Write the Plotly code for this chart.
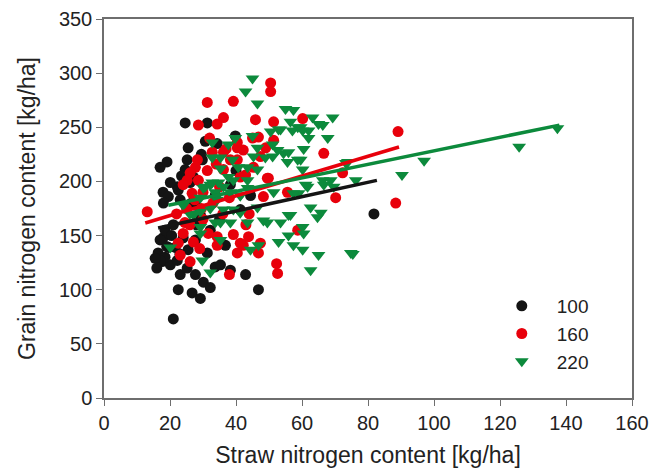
import plotly.graph_objects as go

# ---- data ----
x100 = [24.6,31.3,39.8,30.7,25.5,34.3,17.0,19.1,25.2,29.8,24.6,22.2,17.9,20.1,26.1,27.1,19.5,22.5,
        17.9,16.4,17.6,20.1,18.5,22.2,23.1,22.5,26.7,29.2,21.0,27.7,30.1,32.2,31.3,33.7,42.9,46.8,
        24.0,81.8,41.3,17.0,19.5,15.5,25.5,29.2,32.2,36.8,27.7,23.1,33.7,38.3,17.0,18.5,35.3,38.3,
        27.7,25.2,21.6,44.4,21.0,28.0,35.0,40.0,19.0,23.0,16.0,20.5,23.5,26.5,29.5,18.0]
y100 = [254,254,242,237,231,235,213,218,220,220,211,195,190,199,199,204,186,192,
        148,134,126,123,130,127,114,100,97,92,73,114,107,102,134,121,114,100,
        148,170,174,127,139,129,137,169,155,141,178,183,187,197,146,155,123,118,
        146,120,139,187,160,160,165,210,140,133,120,150,205,180,225,180]

x160 = [31.3,39.2,50.5,50.5,28.6,34.3,36.2,45.9,51.4,46.8,51.4,40.4,13.1,55.6,49.5,48.3,60.2,66.6,
        89.1,88.4,70.2,58.7,52.3,52.6,38.0,72.3,43.8,47.4,46.8,42.2,22.5,27.1,23.1,26.1,49.0,47.4,
        45.3,42.9,49.8,40.4,36.2,32.8,28.3,27.7,31.3,26.1,25.2,24.0,28.6,38.3,40.4,42.2,36.2,26.7,
        41.3,24.0,34.3,39.2,41.3,40.4,34.3,31.6,30.0,36.0,33.0,38.0,44.0,22.0,26.0,30.0,35.0,43.0,
        29.0,37.0,45.0,25.0,27.5,32.0,34.0,29.5,24.5]
y160 = [273,274,291,283,252,253,259,257,255,241,238,236,172,190,203,186,258,226,
        246,180,185,155,124,115,114,208,149,143,134,141,143,144,132,126,231,223,
        213,206,203,231,227,227,220,213,210,208,201,197,201,220,220,229,211,189,
        204,152,149,151,143,134,141,152,165,170,180,185,170,170,160,190,195,160,
        138,230,240,175,183,240,216,175,162]

x220 = [45.0,42.9,46.5,55.0,57.4,63.2,66.3,69.3,56.5,59.6,57.1,52.9,50.5,67.8,62.0,60.5,54.4,46.5,
        45.3,51.1,59.6,61.7,59.0,66.3,69.6,76.3,73.3,62.6,65.7,64.7,55.9,53.5,60.2,60.5,55.9,57.4,
        52.9,60.2,65.0,74.8,62.6,49.5,46.8,44.4,90.3,97.0,125.8,137.4,75.4,20.1,29.8,32.2,29.2,35.3,
        45.0,58.7,65.0,62.0,53.5,60.2,51.1,55.9,52.6,58.7,55.6,48.9,46.5,43.5,60.2,73.9,68.7,61.1,
        66.6,51.4,57.4,32.8,37.7,39.8,32.8,35.3,38.9,40.7,35.3,37.7,39.2,34.7,32.2,36.2,30.7,33.7,
        41.3,43.5,30.1,32.8,34.3,29.2,38.3,43.5,46.5,41.3,36.2,32.2,29.2,27.1,48.3,56.5,29.2,33.7,
        38.3,35.3,39.2,34.3,41.3,43.5,24.0,26.0]
y220 = [295,283,272,267,266,259,252,259,255,250,247,248,246,240,240,230,226,231,
        223,223,220,195,189,201,195,201,217,176,171,167,169,162,158,152,150,141,
        144,137,132,134,118,162,141,137,206,219,232,249,133,139,127,116,152,146,
        242,250,253,247,248,247,234,227,229,220,218,222,211,213,211,218,201,197,
        197,190,189,236,234,240,222,222,220,213,212,204,201,199,197,195,195,190,
        187,201,194,199,187,185,190,194,176,171,174,175,172,169,164,169,158,162,
        162,162,174,183,187,162,178,170]

# regression line end points
fit100_x = [16.4, 82.7]
fit100_y = [157, 201]
fit160_x = [12.5, 89.4]
fit160_y = [161.6, 231.8]
fit220_x = [19.5, 138.0]
fit220_y = [178, 252]

names = ["100", "160", "220"]
c_black = "#141414"
c_red = "#e8000b"
c_green = "#0c8a3c"
FONT = "Liberation Sans, Arial, sans-serif"

fig = go.Figure()
fig.add_trace(go.Scatter(x=x100, y=y100, mode="markers", name=names[0], legendgroup="a",
                         marker=dict(symbol="circle", size=11, color=c_black)))
fig.add_trace(go.Scatter(x=x160, y=y160, mode="markers", name=names[1], legendgroup="b",
                         marker=dict(symbol="circle", size=11, color=c_red)))
fig.add_trace(go.Scatter(x=x220, y=y220, mode="markers", name=names[2], legendgroup="c",
                         marker=dict(symbol="triangle-down", size=12, color=c_green)))
for fx, fy, c in [(fit100_x, fit100_y, c_black), (fit160_x, fit160_y, c_red), (fit220_x, fit220_y, c_green)]:
    fig.add_trace(go.Scatter(x=fx, y=fy, mode="lines", showlegend=False,
                             line=dict(color=c, width=3.5)))

axis_common = dict(showgrid=False, zeroline=False, showline=True, linecolor="#6e6e6e", linewidth=1.5,
                   mirror=True, ticks="outside", ticklen=6, tickcolor="#6e6e6e", tickwidth=1,
                   automargin=False,
                   tickfont=dict(family=FONT, size=20, color="#222222"))
fig.update_xaxes(range=[0, 160], tickmode="linear", tick0=0, dtick=20,
                 title=dict(text="Straw nitrogen content [kg/ha]", standoff=14,
                            font=dict(family=FONT, size=23, color="#222222")),
                 **axis_common)
fig.update_yaxes(range=[0, 350], tickmode="linear", tick0=0, dtick=50,
                 title=dict(text="Grain nitrogen content [kg/ha]", standoff=17,
                            font=dict(family=FONT, size=23, color="#222222")),
                 **axis_common)

fig.update_layout(
    width=652, height=470,
    margin=dict(l=104, r=20, t=19, b=72),
    plot_bgcolor="white", paper_bgcolor="white",
    legend=dict(x=0.725, y=0.293, xanchor="left", yanchor="top", bgcolor="rgba(0,0,0,0)",
                itemwidth=60, tracegroupgap=0,
                font=dict(family=FONT, size=19, color="#222222")),
)

fig.write_html("out.html")
